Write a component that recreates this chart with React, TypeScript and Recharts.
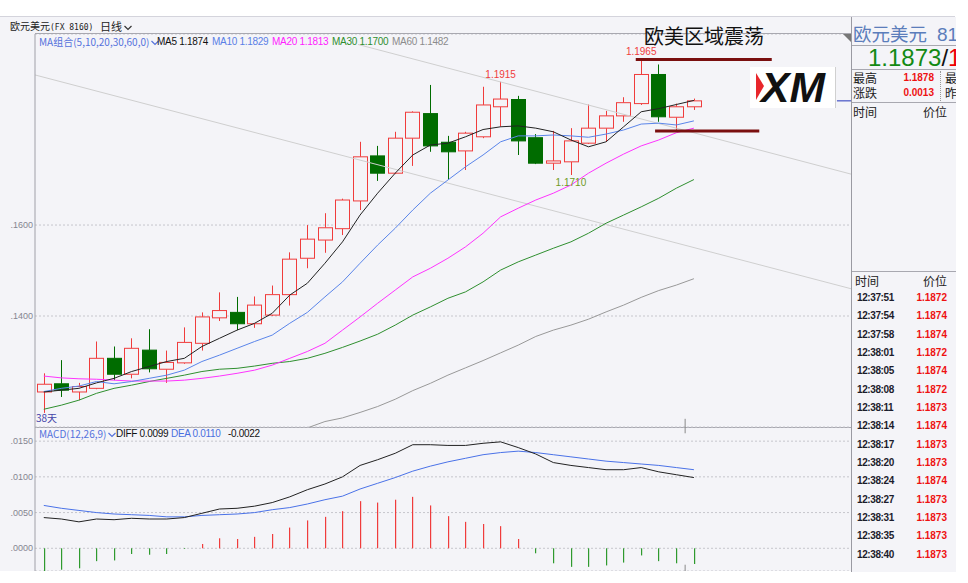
import {
  ComposedChart,
  Bar,
  Line,
  XAxis,
  YAxis,
  CartesianGrid,
  ReferenceLine,
  ReferenceDot,
} from "recharts";

// daily EUR/USD candles, oldest first
const opens = [
  1.1233, 1.1251, 1.1233, 1.1241, 1.1307, 1.1272, 1.1325, 1.1283, 1.1297, 1.134,
  1.1396, 1.1408, 1.1383, 1.1402, 1.1447, 1.1527, 1.1567, 1.1592, 1.1653, 1.1752,
  1.1714, 1.1791, 1.1845, 1.1782, 1.1763, 1.1794, 1.186, 1.1876, 1.1792, 1.1736,
  1.1739, 1.178, 1.1813, 1.184, 1.1867, 1.1931, 1.1837, 1.186,
];
const closes = [
  1.125, 1.1237, 1.1245, 1.1307, 1.1272, 1.1329, 1.1284, 1.1298, 1.1342, 1.1398,
  1.1412, 1.1383, 1.1424, 1.1447, 1.1525, 1.1569, 1.1594, 1.1655, 1.175, 1.1714,
  1.1791, 1.1848, 1.1774, 1.1761, 1.1802, 1.1864, 1.1877, 1.1785, 1.1736, 1.1741,
  1.1785, 1.1813, 1.184, 1.1869, 1.1931, 1.1838, 1.186, 1.1873,
];
const highs = [
  1.1274, 1.1303, 1.1253, 1.1344, 1.1333, 1.1351, 1.1371, 1.1324, 1.1375, 1.1408,
  1.1452, 1.1442, 1.1443, 1.1467, 1.154, 1.16, 1.1626, 1.1658, 1.1783, 1.1774,
  1.1805, 1.185, 1.1908, 1.1796, 1.1805, 1.1904, 1.1915, 1.1884, 1.18, 1.1807,
  1.1813, 1.1865, 1.1851, 1.1881, 1.1965, 1.1953, 1.1867, 1.1878,
];
const lows = [
  1.1187, 1.1222, 1.1215, 1.1239, 1.1259, 1.1263, 1.1276, 1.1253, 1.1295, 1.1324,
  1.1389, 1.1369, 1.1374, 1.14, 1.1423, 1.1505, 1.1539, 1.1578, 1.1633, 1.1697,
  1.1712, 1.173, 1.1761, 1.1699, 1.1721, 1.1791, 1.1816, 1.1754, 1.1734, 1.1721,
  1.171, 1.1778, 1.1783, 1.1827, 1.1864, 1.1827, 1.1809, 1.1853,
];

const ma5 = [
  1.1233, 1.1237, 1.1241, 1.1253, 1.1263, 1.1278, 1.1289, 1.13, 1.1307, 1.1333,
  1.1351, 1.1369, 1.1384, 1.1406, 1.1446, 1.1472, 1.1516, 1.1563, 1.1622, 1.167,
  1.1714, 1.1754, 1.1776, 1.178, 1.1794, 1.181, 1.1816, 1.1818, 1.1813, 1.1805,
  1.1787, 1.1772, 1.1783, 1.1816, 1.1849, 1.1856, 1.1865, 1.1874,
];
const ma10 = [
  1.1234, 1.1241, 1.1246, 1.1256, 1.1251, 1.1256, 1.1263, 1.127, 1.1281, 1.13,
  1.1314, 1.1329, 1.1344, 1.1358, 1.1384, 1.1408, 1.1442, 1.1475, 1.1516, 1.1556,
  1.1593, 1.1633, 1.167, 1.1699, 1.1728, 1.1754, 1.1783, 1.1796, 1.1796, 1.1798,
  1.1796, 1.1793, 1.18, 1.1809, 1.1822, 1.1824, 1.182, 1.1829,
];
const ma20 = [
  1.1268, 1.1264, 1.1262, 1.1261, 1.1259, 1.1257, 1.1257, 1.1257, 1.1259, 1.1263,
  1.1268, 1.1274, 1.1281, 1.1292, 1.1307, 1.1322, 1.134, 1.1369, 1.1398, 1.1428,
  1.1457, 1.1486, 1.1505, 1.1527, 1.1552, 1.1582, 1.1618, 1.1637, 1.1655, 1.167,
  1.1688, 1.1714, 1.1736, 1.1756, 1.1774, 1.1787, 1.1803, 1.1813,
];
const ma30 = [
  1.1195, 1.1204, 1.1215, 1.123, 1.1241, 1.1248, 1.1256, 1.1263, 1.127, 1.1278,
  1.1283, 1.1285, 1.129, 1.1296, 1.13, 1.1307, 1.1318, 1.1331, 1.1345, 1.136,
  1.138, 1.1402, 1.142, 1.1439, 1.1453, 1.1475, 1.1501, 1.1519, 1.1534, 1.1549,
  1.1563, 1.1582, 1.1604, 1.1622, 1.164, 1.1659, 1.1681, 1.17,
];
const ma60 = [
  null, null, null, null, null, null, null, null, null, null,
  null, null, null, null, null, 1.1154, 1.1168, 1.1176, 1.1188, 1.1201,
  1.1217, 1.1236, 1.1252, 1.127, 1.1286, 1.1302, 1.1319, 1.1336, 1.1355, 1.1369,
  1.138, 1.1393, 1.1409, 1.1424, 1.1441, 1.1456, 1.1468, 1.1482,
];

const diff = [
  0.0043, 0.0041, 0.0037, 0.0041, 0.004, 0.0042, 0.0041, 0.0041, 0.0043, 0.0049,
  0.0055, 0.0056, 0.0059, 0.0064, 0.0072, 0.0082, 0.009, 0.01, 0.0116, 0.0124,
  0.0133, 0.0145, 0.0145, 0.0144, 0.0144, 0.0147, 0.0149, 0.0141, 0.0132, 0.012,
  0.0116, 0.0113, 0.011, 0.011, 0.0113, 0.0107, 0.0103, 0.0099,
];
const dea = [
  0.006, 0.0056, 0.0053, 0.005, 0.0048, 0.0047, 0.0046, 0.0044, 0.0044, 0.0046,
  0.0047, 0.0048, 0.005, 0.0054, 0.0057, 0.0062, 0.0068, 0.0073, 0.0083, 0.0091,
  0.0099, 0.0108, 0.0115, 0.0121, 0.0126, 0.0131, 0.0134, 0.0136, 0.0134, 0.0131,
  0.0128, 0.0125, 0.0122, 0.012, 0.0118, 0.0116, 0.0113, 0.011,
];
const hist = [
  -0.0032, -0.003, -0.0028, -0.0018, -0.0017, -0.0008, -0.0009, -0.0008, -0.0001, 0.0006,
  0.0014, 0.0013, 0.0016, 0.002, 0.0029, 0.0039, 0.0044, 0.0052, 0.0066, 0.0064,
  0.0068, 0.0072, 0.006, 0.0045, 0.0037, 0.0034, 0.0031, 0.0013, -0.0007, -0.0021,
  -0.0026, -0.0026, -0.0024, -0.002, -0.001, -0.0018, -0.0021, -0.0022,
];

const priceTicks = [1.14, 1.16];
const macdTicks = [0, 0.005, 0.01, 0.015];

// drawn annotations, in (candle index, price)
const trendLines = [
  { x1: -0.5, y1: 1.193, x2: 45.94, y2: 1.146 },
  { x1: 17.88, y1: 1.1997, x2: 45.94, y2: 1.1712 },
];
const levelLines = [
  { x1: 33.69, x2: 41.43, y: 1.1964 },
  { x1: 34.79, x2: 40.72, y: 1.1807 },
];
const priceMarks = [
  { i: 34, price: 1.1965, text: "1.1965", pos: "top", color: "#f03c3c" },
  { i: 26, price: 1.1915, text: "1.1915", pos: "top", color: "#f03c3c" },
  { i: 30, price: 1.171, text: "1.1710", pos: "bottom", color: "#6f9a1e" },
];
const lastPrice = 1.1873;
const monthSplit = 36.5;

const tickTimes = [
  "12:37:51", "12:37:54", "12:37:58", "12:38:01", "12:38:05", "12:38:08", "12:38:11",
  "12:38:14", "12:38:17", "12:38:20", "12:38:24", "12:38:27", "12:38:31", "12:38:35",
  "12:38:40",
];
const tickPrices = [
  "1.1872", "1.1874", "1.1874", "1.1872", "1.1874", "1.1872", "1.1873", "1.1874",
  "1.1873", "1.1873", "1.1874", "1.1873", "1.1873", "1.1873", "1.1873",
];

const maLegend = [
  { text: "MA5 1.1874", color: "#111", x: 157 },
  { text: "MA10 1.1829", color: "#5a7fe6", x: 212 },
  { text: "MA20 1.1813", color: "#ff22ff", x: 272 },
  { text: "MA30 1.1700", color: "#2f8f2f", x: 332 },
  { text: "MA60 1.1482", color: "#8c8c8c", x: 392 },
];
const macdLegend = [
  { text: "DIFF 0.0099", color: "#111", x: 116 },
  { text: "DEA 0.0110", color: "#4a6fe0", x: 171 },
  { text: "-0.0022", color: "#111", x: 228 },
];

const rows = opens.map((open, i) => ({
  i,
  open,
  close: closes[i],
  high: highs[i],
  low: lows[i],
  range: [lows[i], highs[i]],
  ma5: ma5[i],
  ma10: ma10[i],
  ma20: ma20[i],
  ma30: ma30[i],
  ma60: ma60[i],
  diff: diff[i],
  dea: dea[i],
  hist: hist[i],
}));

const BG = "#f4f4f8";
const UP = "#f03c3c";
const DOWN = "#006c00";
const CJK = '"Noto Sans CJK SC", sans-serif';
const NUM = '"Liberation Sans", Arial, sans-serif';
const PLOT_RIGHT = 851;
const MAIN_TOP = 34;
const MAIN_BOTTOM = 427;
const MACD_BOTTOM = 571;
const CAT_PAD = 148.3;
const X_DOMAIN = [-0.5, 45.94];
const PRICE_DOMAIN = [1.1156, 1.202];
const MACD_DOMAIN = [-0.00318, 0.01698];

const fmt = (v: number) => v.toFixed(4).slice(1);

function Candle(props: any) {
  const { x, y, width, height, payload } = props;
  if (!payload || height == null) return null;
  const { open, close, high, low } = payload;
  const span = high - low || 1e-9;
  const py = (v: number) => y + ((high - v) / span) * height;
  const cx = Math.round(x + width / 2) + 0.5;
  const up = close >= open;
  const color = up ? UP : DOWN;
  const top = py(Math.max(open, close));
  const bot = py(Math.min(open, close));
  const left = Math.round(cx - width / 2) + 0.5;
  return (
    <g>
      <line x1={cx} x2={cx} y1={y} y2={top} stroke={color} />
      <line x1={cx} x2={cx} y1={bot} y2={y + height} stroke={color} />
      <rect
        x={left}
        y={top}
        width={Math.round(width) - 1}
        height={Math.max(bot - top, 1)}
        fill={up ? BG : color}
        stroke={color}
      />
    </g>
  );
}

function MacdBar(props: any) {
  const { x, y, width, height, payload } = props;
  if (!payload || height == null) return null;
  const cx = Math.round(x + width / 2);
  const top = Math.min(y, y + height);
  return (
    <rect
      x={cx}
      y={top}
      width={1.2}
      height={Math.abs(height)}
      fill={payload.hist >= 0 ? "#f03c3c" : "#2f9a2f"}
    />
  );
}

function Chevron({ color }: { color: string }) {
  return (
    <svg width="8" height="6" style={{ marginLeft: 2, verticalAlign: "middle" }}>
      <polyline points="0.5,1 4,4.5 7.5,1" fill="none" stroke={color} strokeWidth="1.2" />
    </svg>
  );
}

const abs = (left: number, top: number, extra: any = {}) => ({
  position: "absolute" as const,
  left,
  top,
  whiteSpace: "nowrap" as const,
  ...extra,
});

export default function App() {
  const axisTick = { fontSize: 9, fill: "#858590", fontFamily: NUM };
  return (
    <div
      style={{
        position: "absolute",
        left: 0,
        top: 0,
        width: 968,
        height: 583,
        overflow: "hidden",
        background: "#fff",
        fontFamily: NUM,
      }}
    >
      {/* chart background */}
      <div style={abs(0, 17, { width: 955, height: 554, background: BG })} />
      <div style={abs(0, 16, { width: 955, height: 1, background: "#d4d4dc" })} />
      <div style={abs(35, 33, { width: 816, height: 1, background: "#a8a8b0" })} />
      <div style={abs(35, 427, { width: 816, height: 1, background: "#a8a8b0" })} />

      {/* header */}
      <div style={abs(10, 19, { fontSize: 10, lineHeight: "14px", color: "#222", fontFamily: CJK })}>
        欧元美元
        <span style={{ fontFamily: '"DejaVu Sans Mono", monospace', fontSize: 8 }}>(FX 8160)</span>
      </div>
      <div style={abs(100, 18, { fontSize: 11, lineHeight: "16px", color: "#222", fontFamily: CJK })}>
        日线
        <Chevron color="#333" />
      </div>

      {/* main price chart */}
      <div style={abs(0, MAIN_TOP)}>
        <ComposedChart
          width={PLOT_RIGHT}
          height={MAIN_BOTTOM - MAIN_TOP}
          data={rows}
          margin={{ top: 0, right: 0, bottom: 0, left: 0 }}
        >
          <XAxis xAxisId="c" dataKey="i" type="category" hide padding={{ left: 0, right: CAT_PAD }} />
          <XAxis xAxisId="n" dataKey="i" type="number" hide domain={X_DOMAIN} allowDataOverflow />
          <YAxis
            type="number"
            domain={PRICE_DOMAIN}
            allowDataOverflow
            ticks={priceTicks}
            tickFormatter={fmt}
            width={35}
            tick={axisTick}
            tickLine={false}
            tickSize={0}
            tickMargin={2}
            axisLine={{ stroke: "#a0a0a8" }}
          />
          <CartesianGrid xAxisId="c" vertical={false} strokeDasharray="2 2" stroke="#c6c6cc" />
          {trendLines.map((t, k) => (
            <ReferenceLine
              key={`t${k}`}
              xAxisId="n"
              segment={[
                { x: t.x1, y: t.y1 },
                { x: t.x2, y: t.y2 },
              ]}
              stroke="#cfcfcf"
              strokeWidth={1}
              ifOverflow="hidden"
            />
          ))}
          <ReferenceLine
            xAxisId="n"
            segment={[
              { x: monthSplit, y: 1.1174 },
              { x: monthSplit, y: PRICE_DOMAIN[0] },
            ]}
            stroke="#888"
            ifOverflow="hidden"
          />
          <ReferenceLine
            xAxisId="n"
            segment={[
              { x: 45.14, y: lastPrice },
              { x: X_DOMAIN[1], y: lastPrice },
            ]}
            stroke="#2233bb"
            ifOverflow="hidden"
          />
          <Bar
            xAxisId="c"
            dataKey="range"
            barSize={15}
            shape={(p: any) => <Candle {...p} />}
            isAnimationActive={false}
          />
          <Line xAxisId="c" dataKey="ma60" stroke="#999" dot={false} strokeWidth={1} isAnimationActive={false} />
          <Line xAxisId="c" dataKey="ma30" stroke="#2f8f2f" dot={false} strokeWidth={1} isAnimationActive={false} />
          <Line xAxisId="c" dataKey="ma20" stroke="#ff33ff" dot={false} strokeWidth={1} isAnimationActive={false} />
          <Line xAxisId="c" dataKey="ma10" stroke="#5a85ea" dot={false} strokeWidth={1} isAnimationActive={false} />
          <Line xAxisId="c" dataKey="ma5" stroke="#222" dot={false} strokeWidth={1} isAnimationActive={false} />
          {levelLines.map((l, k) => (
            <ReferenceLine
              key={`l${k}`}
              xAxisId="n"
              segment={[
                { x: l.x1, y: l.y },
                { x: l.x2, y: l.y },
              ]}
              stroke="#7a0f0f"
              strokeWidth={3}
              ifOverflow="hidden"
            />
          ))}
          {priceMarks.map((m) => (
            <ReferenceDot
              key={m.text}
              xAxisId="n"
              x={m.i}
              y={m.price}
              r={0}
              fill="none"
              stroke="none"
              label={{
                value: m.text,
                position: m.pos as any,
                fill: m.color,
                fontSize: 10,
                fontFamily: NUM,
                offset: 4,
              }}
            />
          ))}
        </ComposedChart>
      </div>

      {/* MACD chart */}
      <div style={abs(0, MAIN_BOTTOM)}>
        <ComposedChart
          width={PLOT_RIGHT}
          height={MACD_BOTTOM - MAIN_BOTTOM}
          data={rows}
          margin={{ top: 0, right: 0, bottom: 0, left: 0 }}
        >
          <XAxis xAxisId="c" dataKey="i" type="category" hide padding={{ left: 0, right: CAT_PAD }} />
          <XAxis xAxisId="n" dataKey="i" type="number" hide domain={X_DOMAIN} allowDataOverflow />
          <YAxis
            type="number"
            domain={MACD_DOMAIN}
            allowDataOverflow
            ticks={macdTicks}
            tickFormatter={fmt}
            width={35}
            tick={axisTick}
            tickLine={false}
            tickSize={0}
            tickMargin={2}
            axisLine={{ stroke: "#a0a0a8" }}
          />
          <CartesianGrid xAxisId="c" vertical={false} strokeDasharray="2 2" stroke="#c6c6cc" />
          <ReferenceLine
            xAxisId="n"
            segment={[
              { x: monthSplit, y: MACD_DOMAIN[1] },
              { x: monthSplit, y: 0.0161 },
            ]}
            stroke="#888"
            ifOverflow="hidden"
          />
          <ReferenceLine
            xAxisId="n"
            segment={[
              { x: monthSplit, y: -0.0023 },
              { x: monthSplit, y: MACD_DOMAIN[0] },
            ]}
            stroke="#888"
            ifOverflow="hidden"
          />
          <Bar
            xAxisId="c"
            dataKey="hist"
            barSize={15}
            shape={(p: any) => <MacdBar {...p} />}
            isAnimationActive={false}
          />
          <Line xAxisId="c" dataKey="dea" stroke="#4a72e8" dot={false} strokeWidth={1} isAnimationActive={false} />
          <Line xAxisId="c" dataKey="diff" stroke="#222" dot={false} strokeWidth={1} isAnimationActive={false} />
        </ComposedChart>
      </div>

      {/* legends */}
      <div style={abs(39, 34, { fontSize: 10, lineHeight: "15px", color: "#5572dc", fontFamily: CJK })}>
        MA组合(5,10,20,30,60,0)
        <Chevron color="#5572dc" />
      </div>
      {maLegend.map((m) => (
        <div key={m.text} style={abs(m.x, 35, { fontSize: 10, lineHeight: "14px", color: m.color, letterSpacing: -0.3 })}>
          {m.text}
        </div>
      ))}
      <div style={abs(39, 426, { fontSize: 10, lineHeight: "15px", color: "#5572dc", fontFamily: CJK })}>
        MACD(12,26,9)
        <Chevron color="#5572dc" />
      </div>
      {macdLegend.map((m) => (
        <div key={m.text} style={abs(m.x, 427, { fontSize: 10, lineHeight: "14px", color: m.color, letterSpacing: -0.3 })}>
          {m.text}
        </div>
      ))}
      <div style={abs(36, 411, { fontSize: 10, lineHeight: "14px", color: "#4545a8", fontFamily: CJK })}>38天</div>

      {/* title and logo */}
      <div style={abs(644, 25, { fontSize: 20, lineHeight: "22px", color: "#111", fontFamily: CJK })}>
        欧美区域震荡
      </div>
      <svg style={abs(750, 67)} width={86} height={42}>
        <rect x={0} y={0} width={85} height={41} fill="#fff" />
        <line x1={85.5} y1={0} x2={85.5} y2={41} stroke="#d0d0d0" />
        <polygon points="6,6 14,19 6,33" fill="#e8262b" />
        <text
          x={11}
          y={35}
          fontFamily={NUM}
          fontSize={42}
          fontWeight={900}
          fontStyle="italic"
          textLength={64}
          lengthAdjust="spacingAndGlyphs"
          fill="#111"
        >
          XM
        </text>
      </svg>
      <svg style={abs(842, 33)} width={10} height={10}>
        <polygon points="1,1 9,1 9,9" fill="#777" />
      </svg>

      {/* right quote panel */}
      <div
        style={abs(851, 17, {
          width: 104,
          height: 555,
          background: BG,
          borderLeft: "1px solid #9a9aa2",
          overflow: "hidden",
        })}
      >
        <div style={abs(1, 5, { fontSize: 18.5, lineHeight: "22px", color: "#5b7dbb", fontFamily: CJK })}>
          欧元美元
          <span style={{ fontFamily: NUM, fontSize: 19, marginLeft: 10 }}>816</span>
        </div>
        <div style={abs(0, 28, { width: 104, height: 1, background: "#a8a8b0" })} />
        <div style={abs(16, 29, { fontSize: 24, lineHeight: "23px", fontFamily: NUM })}>
          <span style={{ color: "#138a13" }}>1.1873</span>
          <span style={{ color: "#111" }}>/</span>
          <span style={{ color: "#ee0000" }}>1</span>
        </div>
        <div style={abs(0, 52, { width: 104, height: 1, background: "#a8a8b0" })} />
        <div style={abs(1, 54, { fontSize: 12, lineHeight: "14px", color: "#222", fontFamily: CJK })}>最高</div>
        <div style={abs(1, 69, { fontSize: 12, lineHeight: "14px", color: "#222", fontFamily: CJK })}>涨跌</div>
        <div style={abs(40, 54, { width: 42, textAlign: "right", fontSize: 10, lineHeight: "14px", color: "#ee1111", fontWeight: 700 })}>
          1.1878
        </div>
        <div style={abs(40, 69, { width: 42, textAlign: "right", fontSize: 10, lineHeight: "14px", color: "#ee1111", fontWeight: 700 })}>
          0.0013
        </div>
        <div style={abs(88, 54, { width: 0, height: 30, borderLeft: "1px dotted #999" })} />
        <div style={abs(93, 54, { fontSize: 12, lineHeight: "14px", color: "#222", fontFamily: CJK })}>最</div>
        <div style={abs(93, 69, { fontSize: 12, lineHeight: "14px", color: "#222", fontFamily: CJK })}>昨</div>
        <div style={abs(0, 85, { width: 104, height: 1, background: "#a8a8b0" })} />
        <div style={abs(1, 88, { fontSize: 12, lineHeight: "14px", color: "#222", fontFamily: CJK })}>时间</div>
        <div style={abs(71, 88, { fontSize: 12, lineHeight: "14px", color: "#222", fontFamily: CJK })}>价位</div>

        <div style={abs(0, 254, { width: 104, height: 1, background: "#a8a8b0" })} />
        <div style={abs(3, 257, { fontSize: 12, lineHeight: "14px", color: "#222", fontFamily: CJK })}>时间</div>
        <div style={abs(71, 257, { fontSize: 12, lineHeight: "14px", color: "#222", fontFamily: CJK })}>价位</div>
        {tickTimes.map((t, k) => (
          <div key={t + k}>
            <div
              style={abs(5, 274 + k * 18.33, {
                fontSize: 10,
                lineHeight: "14px",
                fontWeight: 700,
                color: "#1c1c2c",
                letterSpacing: -0.4,
              })}
            >
              {t}
            </div>
            <div
              style={abs(50, 274 + k * 18.33, {
                width: 45,
                textAlign: "right",
                fontSize: 10,
                lineHeight: "14px",
                fontWeight: 700,
                color: "#ee1111",
              })}
            >
              {tickPrices[k]}
            </div>
          </div>
        ))}
      </div>
    </div>
  );
}
